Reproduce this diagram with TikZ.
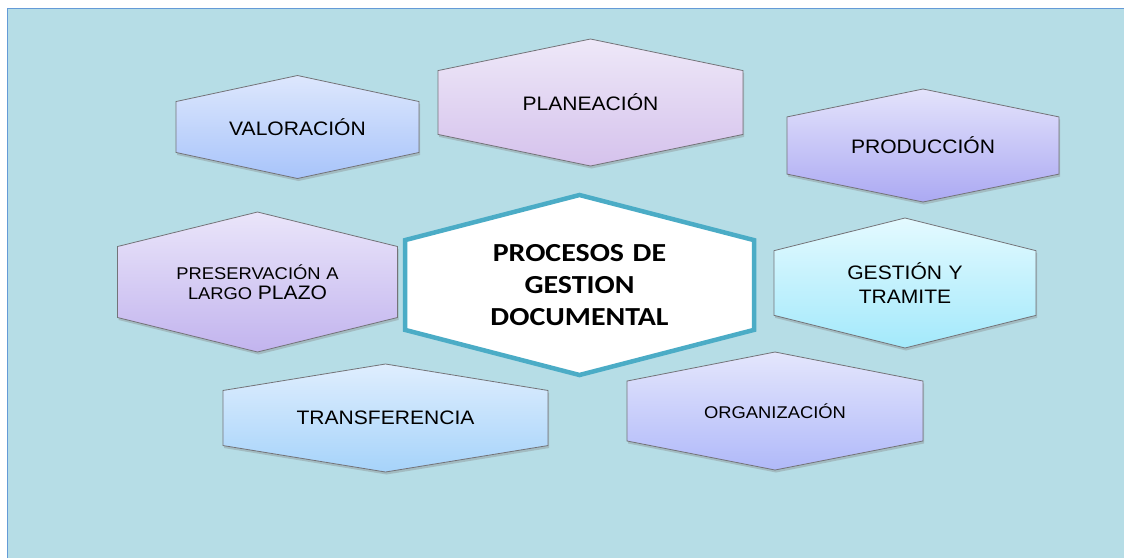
\documentclass[tikz,border=0pt]{standalone}
\usepackage{fontspec}
\setmainfont{Liberation Sans}[FakeStretch=1.08]
\newfontfamily\titlefont{Carlito}[FakeStretch=1.15]
\usepackage{tikz}
\usetikzlibrary{shapes.symbols, shadows, positioning}
\definecolor{panelcolor}{RGB}{182, 221, 230}
\definecolor{panelline}{RGB}{100, 155, 215}
\definecolor{hexline}{RGB}{115, 115, 120}
\definecolor{coreline}{RGB}{75, 172, 198}
\definecolor{valtop}{RGB}{221, 231, 253}
\definecolor{valbot}{RGB}{168, 196, 250}
\definecolor{plantop}{RGB}{238, 232, 248}
\definecolor{planbot}{RGB}{213, 194, 236}
\definecolor{prodtop}{RGB}{228, 227, 251}
\definecolor{prodbot}{RGB}{171, 169, 243}
\definecolor{gesttop}{RGB}{228, 250, 255}
\definecolor{gestbot}{RGB}{163, 233, 251}
\definecolor{prestop}{RGB}{234, 229, 250}
\definecolor{presbot}{RGB}{194, 180, 238}
\definecolor{transtop}{RGB}{223, 238, 254}
\definecolor{transbot}{RGB}{166, 211, 250}
\definecolor{orgtop}{RGB}{228, 230, 252}
\definecolor{orgbot}{RGB}{176, 185, 249}

\begin{document}
\begin{tikzpicture}[
    x=1pt, y=-1pt,
    hexa/.style={shape=signal, signal to=north and south, draw=hexline, line width=0.8pt, inner sep=0pt, align=center, font=\fontsize{19.5}{24}\selectfont, drop shadow={opacity=0.35, shadow xshift=1pt, shadow yshift=-2.5pt}},
    core/.style={shape=signal, signal to=north and south, draw=coreline, fill=white, line width=4.5pt, inner sep=0pt, align=center, font=\titlefont\bfseries\fontsize{26}{32}\selectfont}
]
    \useasboundingbox (0,0) rectangle (1124,558);

    % Background panel
    \fill[white] (0,0) rectangle (1124,558);
    \fill[panelcolor] (7.5,8.5) rectangle (1124,558);
    \draw[panelline, line width=1.2pt] (7.5,558) -- (7.5,8.5) -- (1124,8.5);

    % Nodes - centre
    \node[core, signal pointer angle=151, text width=349pt, minimum height=180pt] (procesos) at (579.5,285) {PROCESOS DE\\GESTION\\DOCUMENTAL};

    % Nodes - top row
    \node[hexa, top color=valtop, bottom color=valbot, signal pointer angle=155.8, text width=243pt, minimum height=103pt] (valoracion) at (297.5,127) {VALORACIÓN};
    \node[hexa, top color=plantop, bottom color=planbot, signal pointer angle=156.6, text width=305pt, minimum height=127pt] (planeacion) at (590.5,102.5) {PLANEACIÓN};
    \node[hexa, top color=prodtop, bottom color=prodbot, signal pointer angle=156.8, text width=272pt, minimum height=113pt] (produccion) at (923,145.5) {PRODUCCIÓN};

    % Nodes - middle row
    \node[hexa, top color=prestop, bottom color=presbot, signal pointer angle=152.3, text width=280pt, minimum height=140pt, font=\fontsize{17}{20}\selectfont] (preservacion) at (257.5,282) {PRESERVACIÓN A\\LARGO {\fontsize{19.5}{20}\selectfont PLAZO}};
    \node[hexa, top color=gesttop, bottom color=gestbot, signal pointer angle=152, text width=262pt, minimum height=130pt] (gestion) at (905,283) {GESTIÓN Y\\TRAMITE};

    % Nodes - bottom row
    \node[hexa, top color=transtop, bottom color=transbot, signal pointer angle=161.5, text width=325pt, minimum height=108pt] (transferencia) at (385.5,418) {TRANSFERENCIA};
    \node[hexa, top color=orgtop, bottom color=orgbot, signal pointer angle=157.8, text width=296pt, minimum height=118pt, font=\fontsize{17}{20}\selectfont] (organizacion) at (775,411) {ORGANIZACIÓN};
\end{tikzpicture}
\end{document}
